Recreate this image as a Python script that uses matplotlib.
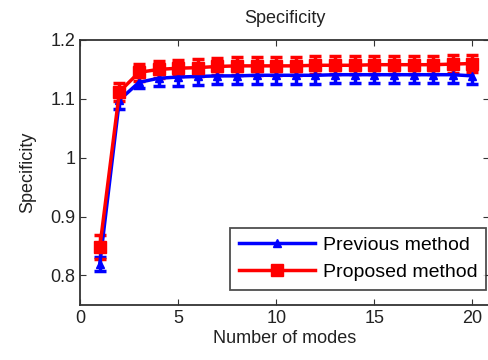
import numpy as np
import matplotlib
matplotlib.use("Agg")
import matplotlib.pyplot as plt
from matplotlib.lines import Line2D

plt.rcParams['font.family'] = ['Liberation Sans', 'DejaVu Sans']

modes = list(range(1, 21))
previous = [0.82, 1.098, 1.128, 1.135, 1.137, 1.138, 1.139, 1.139, 1.140, 1.140,
            1.140, 1.140, 1.141, 1.141, 1.141, 1.141, 1.141, 1.141, 1.141, 1.139]
previous_err = [0.012, 0.016, 0.010, 0.013, 0.015, 0.015, 0.014, 0.014, 0.014, 0.014,
                0.014, 0.014, 0.014, 0.014, 0.014, 0.014, 0.014, 0.014, 0.014, 0.014]
proposed = [0.848, 1.112, 1.145, 1.150, 1.152, 1.153, 1.155, 1.156, 1.156, 1.156,
            1.156, 1.157, 1.157, 1.157, 1.158, 1.158, 1.158, 1.158, 1.159, 1.160]
proposed_err = [0.020, 0.015, 0.015, 0.014, 0.014, 0.015, 0.014, 0.015, 0.015, 0.015,
                0.015, 0.015, 0.015, 0.015, 0.015, 0.015, 0.015, 0.015, 0.015, 0.015]

fig = plt.figure(figsize=(4.89, 3.6), dpi=100)
ax = fig.add_axes([0.164, 0.153, 0.836, 0.736])

ax.errorbar(modes, previous, yerr=previous_err, color='blue', lw=2.5, marker='^',
            ms=6, capsize=4.5, elinewidth=2.5, capthick=2.5)
ax.errorbar(modes, proposed, yerr=proposed_err, color='red', lw=2.5, marker='s',
            ms=9, capsize=4.5, elinewidth=2.5, capthick=2.5)

ax.set_xlim(0, 20.85)
ax.set_ylim(0.75, 1.2)
ax.set_xticks([0, 5, 10, 15, 20])
ax.set_yticks([0.8, 0.9, 1.0, 1.1, 1.2])
ax.set_yticklabels(['0.8', '0.9', '1', '1.1', '1.2'])
ax.tick_params(direction='in', top=True, right=True, labelsize=13, length=4,
               color='#333333', labelcolor='#222222')
for s in ax.spines.values():
    s.set_color('#333333')
    s.set_linewidth(1.3)
ax.set_xlabel('Number of modes', fontsize=13, labelpad=2, color='#222222')
ax.set_ylabel('Specificity', fontsize=13, color='#222222', labelpad=10)
ax.set_title('Specificity', fontsize=13, pad=12, color='#222222')

handles = [Line2D([], [], color='blue', lw=2.5, marker='^', ms=6),
           Line2D([], [], color='red', lw=2.5, marker='s', ms=9)]
leg = ax.legend(handles, ['Previous method', 'Proposed method'], loc='lower right',
                bbox_to_anchor=(486 / 489, 1 - 290 / 360), bbox_transform=fig.transFigure,
                fontsize=14, fancybox=False, edgecolor='#222222', handlelength=3.9,
                borderaxespad=0, labelspacing=0.5, handletextpad=0.4,
                borderpad=0.45)
leg.get_frame().set_linewidth(1.3)

fig.savefig('out.png', dpi=100)
